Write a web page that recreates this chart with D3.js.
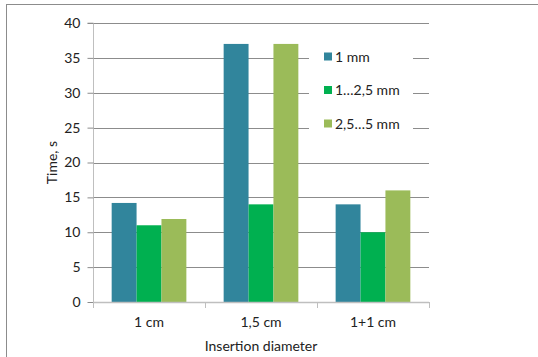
<!DOCTYPE html>
<html><head><meta charset="utf-8">
<script src="https://cdn.jsdelivr.net/npm/d3@7"></script>
<style>body{margin:0;background:#fff}svg{display:block}text{font-family:Lato,"Open Sans",sans-serif;fill:#222}</style>
</head><body>
<script>
const categories = ["1 cm", "1,5 cm", "1+1 cm"];
const seriesNames = ["1 mm", "1…2,5 mm", "2,5…5 mm"];
const s1 = [14.2, 37, 14];
const s2 = [11, 14, 10];
const s3 = [11.9, 37, 16];
const yTicks = [0, 5, 10, 15, 20, 25, 30, 35, 40];
const colors = ["#31859C", "#00B050", "#9BBB59"];
const series = [s1, s2, s3];

const W = 538, H = 357;
const svg = d3.select("body").append("svg").attr("width", W).attr("height", H);
svg.append("rect").attr("x", 6.5).attr("y", 4.5).attr("width", 540).attr("height", 360)
  .attr("fill", "none").attr("stroke", "#8c8c8c").attr("stroke-width", 1);

const L = 93, R = 429, T = 23, B = 302;
const x = d3.scaleBand().domain(categories).range([L, R]).paddingInner(0.333).paddingOuter(0.1667);
const x0 = d3.scaleBand().domain(categories).range([L, R]);
const xs = d3.scaleBand().domain(d3.range(3)).range([0, x.bandwidth()]);
const y = d3.scaleLinear().domain([0, 40]).range([B, T]);

// gridlines
svg.append("g").selectAll("line").data(yTicks.filter(d => d > 0)).join("line")
  .attr("x1", L).attr("x2", R).attr("y1", d => Math.round(y(d)) + 0.5).attr("y2", d => Math.round(y(d)) + 0.5)
  .attr("stroke", "#8c8c8c");

// bars
series.forEach((s, i) => {
  svg.append("g").selectAll("rect").data(categories).join("rect")
    .attr("x", (c) => x(c) + xs(i)).attr("width", xs.bandwidth())
    .attr("y", (c, j) => y(s[j])).attr("height", (c, j) => B - y(s[j]))
    .attr("fill", colors[i]);
});

// y axis
const ya = svg.append("g").attr("transform", `translate(${L + 0.5},0)`)
  .call(d3.axisLeft(y).tickValues(yTicks).tickSize(6).tickPadding(7));
ya.select(".domain").attr("stroke", "#bfbfbf").attr("d", `M-6,${T}H0V${B}`);
ya.selectAll(".tick line").attr("stroke", "#8c8c8c");
ya.selectAll(".tick text").attr("font-size", 14).style("font-family", "Lato,sans-serif").attr("fill", "#222");

// x axis
const xa = svg.append("g").attr("transform", `translate(0,${B + 0.5})`)
  .call(d3.axisBottom(x0).tickSize(0).tickPadding(15));
xa.select(".domain").attr("stroke", "#bfbfbf").attr("stroke-width", 1.5).attr("d", `M${L},0H${R}`);
xa.selectAll(".tick text").attr("font-size", 14).style("font-family", "Lato,sans-serif").attr("fill", "#222");
svg.append("g").selectAll("line").data([0, 1, 2, 3]).join("line")
  .attr("x1", i => Math.round(L + i * x0.step()) + 0.5).attr("x2", i => Math.round(L + i * x0.step()) + 0.5)
  .attr("y1", B).attr("y2", B + 6).attr("stroke", "#bfbfbf");

// titles
svg.append("text").attr("transform", `translate(57,${(T + B) / 2}) rotate(-90)`)
  .attr("text-anchor", "middle").attr("font-size", 14).text("Time, s");
svg.append("text").attr("x", (L + R) / 2).attr("y", 351).attr("text-anchor", "middle")
  .attr("font-size", 14).text("Insertion diameter");

// legend
const lg = svg.append("g");
lg.append("rect").attr("x", 309).attr("y", 40).attr("width", 104).attr("height", 100).attr("fill", "#fff");
seriesNames.forEach((n, i) => {
  const cy = 56.5 + i * 33.5;
  lg.append("rect").attr("x", 324).attr("y", cy - 4).attr("width", 8).attr("height", 8).attr("fill", colors[i]);
  lg.append("text").attr("x", 335).attr("y", cy + 5).attr("font-size", 14).text(n);
});
</script>
</body></html>
